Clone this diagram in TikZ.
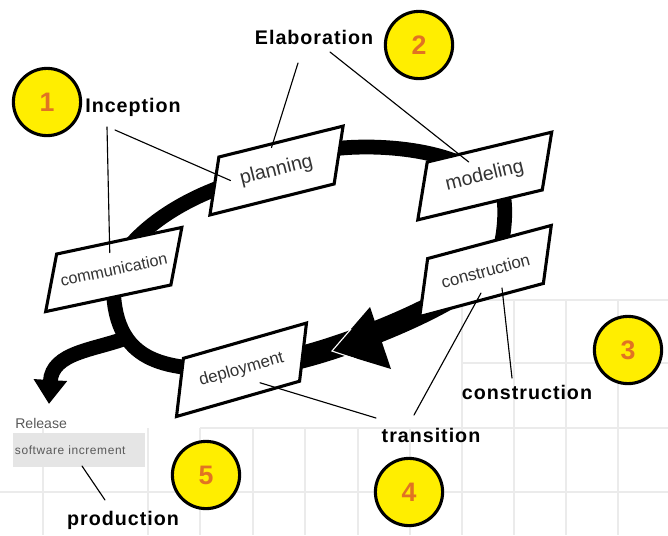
\documentclass[tikz,border=0pt]{standalone}
\usepackage{fontspec}
\setmainfont{Liberation Sans}
\newfontfamily\phasefont[LetterSpace=5]{Liberation Sans}
\usetikzlibrary{calc,arrows.meta}
\pgfdeclarelayer{bg}
\pgfsetlayers{bg,main}
\definecolor{badgeyellow}{RGB}{255,238,0}
\definecolor{badgeorange}{RGB}{225,115,35}
\begin{document}
\begin{tikzpicture}[x=0.025cm, y=-0.025cm, line join=round, line cap=round,
	band/.style={line width=10.5pt},
	boxline/.style={line width=2.2pt, fill=white, line join=miter},
	boxtext/.style={text=black!80, inner sep=0pt},
	phase/.style={font=\phasefont\bfseries\fontsize{14}{16}\selectfont, inner sep=0pt},
	badge/.style={circle, draw, line width=2.2pt, fill=badgeyellow, minimum size=1.68cm, inner sep=0pt, text=badgeorange, font=\bfseries\fontsize{19}{20}\selectfont},
	leader/.style={line width=0.8pt},
	gridline/.style={black!8, line width=1pt}]
	\def\stagebox#1#2#3#4#5{% name, centre, angle, size, text
		\begin{scope}[shift={(#2)}, rotate=#3]
			\draw[boxline, xslant=0.42] (-64,-27) rectangle (64,27);
		\end{scope}
		\node[boxtext, rotate=#3, font=\fontsize{#4}{#4}\selectfont] (#1) at (#2) {#5};}
	\useasboundingbox (0,0) rectangle (668,535);
	% grid
	\begin{pgfonlayer}{bg}
		\draw[gridline] (462,300)--(668,300) (462,363)--(668,363) (200,428)--(668,428) (0,492)--(668,492);
		\foreach \gx in {462,514,566,618} \draw[gridline] (\gx,300)--(\gx,535);
		\foreach \gx in {43,148,200,253,305,358,410} \draw[gridline] (\gx,428)--(\gx,535);
	\end{pgfonlayer}
	% stages
	\stagebox{planning}{276.5,170.5}{14}{14}{planning}
	\stagebox{modeling}{484.75,176}{13.5}{14}{modeling}
	\stagebox{constr}{485.5,271}{15}{12}{construction}
	\stagebox{communication}{113.75,269.5}{12}{11.5}{communication}
	\stagebox{deployment}{241.5,369.75}{16}{12}{deployment}
	% loop
	\begin{pgfonlayer}{bg}
		\draw[band] (communication) .. controls (140,225) and (190,195) .. (planning);
		\draw[band] (planning) .. controls (330,145) and (420,140) .. (modeling);
		\draw[band] (modeling) .. controls (510,190) and (505,250) .. (constr);
		\draw[band, line width=16pt] (constr) .. controls (440,310) and (340,350) .. (deployment);
		\draw[band] (deployment) .. controls (155,368) and (110,356) .. (communication);
		\coordinate (fork) at (126,338);
		\coordinate (out) at (49,404);
		\draw[band, -{Triangle[width=0.8cm, length=0.6cm]}] (fork) .. controls (95,350) and (52,352) .. (out);
		\fill (370,307) -- (391,369) -- (332,351) -- cycle;
		\draw[white, line width=0.8pt] (351,329) -- (332,351) -- (356,359);
	\end{pgfonlayer}
	% phases
	\node[phase] (inception) at (133,107) {Inception};
	\node[phase] (elaboration) at (314,37) {Elaboration};
	\node[phase] (construction) at (527,392) {construction};
	\node[phase] (transition) at (431,435) {transition};
	\node[phase] (production) at (123,520) {production};
	\node[anchor=west, inner sep=0pt, text=black!65, font=\fontsize{10}{12}\selectfont] (release) at (15,423) {Release};
	\node[fill=black!10, minimum width=3.3cm, minimum height=0.85cm, text width=3.2cm, inner xsep=0.05cm, align=left, text=black!65, font=\phasefont\fontsize{8.5}{10}\selectfont] (software) at (79,450) {software increment};
	\node[badge] (b1) at (47,102) {1};
	\node[badge] (b2) at (419,45) {2};
	\node[badge] (b3) at (628,350) {3};
	\node[badge] (b4) at (409,492) {4};
	\node[badge] (b5) at (206,475) {5};
	% leaders
	\draw[leader] ($(inception)+(-26,20)$) -- ($(communication)+(-4,-17)$);
	\draw[leader] ($(inception)+(-18,23)$) -- ($(planning)+(-46,10)$);
	\draw[leader] ($(elaboration)+(-16,26)$) -- ($(planning)+(-5,-23)$);
	\draw[leader] ($(elaboration)+(16,15)$) -- ($(modeling)+(-16,-14)$);
	\draw[leader] ($(constr)+(16.5,17)$) -- ($(construction)+(-15,-14)$);
	\draw[leader] ($(transition)+(-17,-20)$) -- ($(constr)+(-4.5,22)$);
	\draw[leader] ($(transition)+(-55,-17)$) -- ($(deployment)+(18.5,13)$);
	\draw[leader] ($(software)+(3,16)$) -- ($(production)+(-18,-20)$);
\end{tikzpicture}
\end{document}
